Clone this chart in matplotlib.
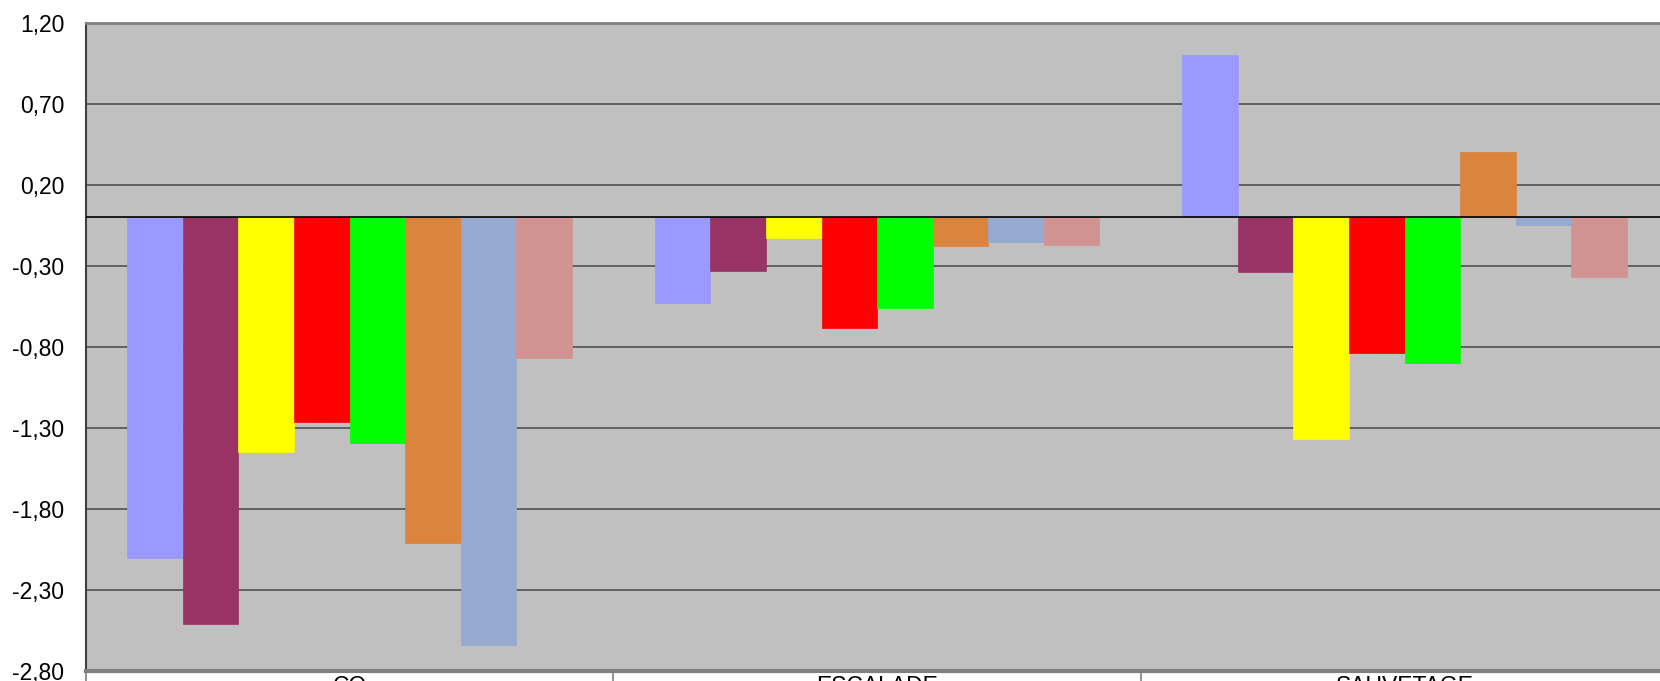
import matplotlib
matplotlib.use("Agg")
import matplotlib.pyplot as plt
import numpy as np

plt.rcParams['font.family'] = ['Liberation Sans', 'DejaVu Sans']

categories = ["CO", "ESCALADE", "SAUVETAGE"]
series_colors = ["#9999FF", "#993366", "#FFFF00", "#FF0000", "#00FF00",
                 "#DB843D", "#95A9D1", "#D19392"]
s1 = [-2.10, -0.53, 1.00]
s2 = [-2.51, -0.33, -0.34]
s3 = [-1.45, -0.13, -1.37]
s4 = [-1.26, -0.68, -0.84]
s5 = [-1.39, -0.56, -0.90]
s6 = [-2.01, -0.18, 0.40]
s7 = [-2.64, -0.15, -0.05]
s8 = [-0.87, -0.17, -0.37]
series = [s1, s2, s3, s4, s5, s6, s7, s8]
yticks = [1.20, 0.70, 0.20, -0.30, -0.80, -1.30, -1.80, -2.30, -2.80]
ytick_labels = ["1,20", "0,70", "0,20", "-0,30", "-0,80", "-1,30", "-1,80", "-2,30", "-2,80"]

W, H = 1660, 681
fig = plt.figure(figsize=(W / 100, H / 100), dpi=100)
left, right, top, bottom = 85.8, 85.8 + 3 * 527.5, 22.6, 671.4
ax = fig.add_axes([left / W, (H - bottom) / H, (right - left) / W, (bottom - top) / H])
ax.set_facecolor("#C0C0C0")

n = len(series)
bw = 1 / 9.5
x = np.arange(len(categories))
for i, (vals, col) in enumerate(zip(series, series_colors)):
    ax.bar(x + (i - (n - 1) / 2) * bw, vals, width=bw, color=col,
           edgecolor=col, linewidth=0.5, zorder=3)

ax.set_xlim(-0.5, len(categories) - 0.5)
ax.set_ylim(-2.80, 1.20)
ax.set_yticks(yticks)
ax.set_yticklabels(ytick_labels, fontsize=16.5)
ax.tick_params(axis='y', length=0, pad=15.5)
for yv in yticks[1:-1]:
    ax.axhline(yv, color="#505050", linewidth=1.2, zorder=1)
ax.axhline(0, color="black", linewidth=1.2, zorder=4)

ax.set_xticks(x)
ax.set_xticklabels([])
ax.tick_params(axis='x', which='major', length=0)
ax.set_xticks(np.arange(-0.5, len(categories)), minor=True)
ax.tick_params(axis='x', which='minor', length=12, width=1.2, color="#808080", direction='out')
for xi, c in zip(x, categories):
    ax.annotate(c, xy=(xi, 0), xycoords=('data', 'axes fraction'),
                xytext=(0, -4), textcoords='offset pixels',
                ha='center', va='top', fontsize=16.5, annotation_clip=False)

ax.spines['left'].set_color("#404040")
ax.spines['left'].set_linewidth(1.5)
ax.spines['bottom'].set_color("#808080")
ax.spines['bottom'].set_linewidth(3)
ax.spines['top'].set_color("#808080")
ax.spines['top'].set_linewidth(2)
ax.spines['right'].set_visible(False)

fig.savefig("out.png", dpi=100)
